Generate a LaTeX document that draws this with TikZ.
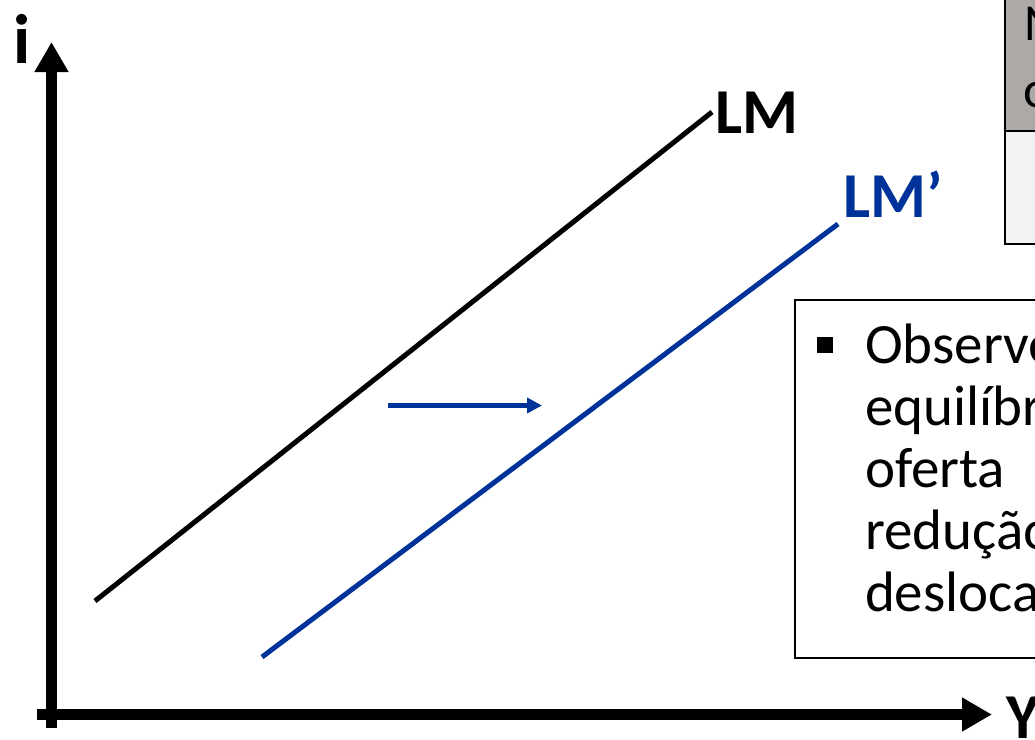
\documentclass[tikz,border=0pt]{standalone}
\usepackage{fontspec}
\setmainfont{Carlito}
\usetikzlibrary{arrows.meta}
\definecolor{lmblue}{RGB}{0,51,153}
\definecolor{headgray}{RGB}{172,169,167}
\definecolor{rowgray}{RGB}{242,242,242}
\begin{document}
\begin{tikzpicture}[x=1pt, y=-1pt, line join=miter,
	every node/.style={inner sep=0pt, outer sep=0pt, anchor=base west},
	axis/.style={line width=11pt, -{Triangle[length=30pt, width=32pt]}},
	curve/.style={line width=5pt},
	lbl/.style={font=\fontsize{64}{64}\selectfont\bfseries},
	boxtext/.style={font=\fontsize{57}{62}\selectfont}]
	\useasboundingbox (0,0) rectangle (1035,739);
	\clip (0,0) rectangle (1035,739);

	% Eixos
	\coordinate (ybot) at (51.5,728);
	\coordinate (ytop) at (51.5,42);
	\coordinate (xleft) at (37,714.5);
	\coordinate (xright) at (992,714.5);
	\draw[axis] (ybot) -- (ytop);
	\draw[axis] (xleft) -- (xright);
	\node[lbl, font=\fontsize{70}{70}\selectfont\bfseries] (i) at (13,63) {i};
	\node[lbl] (Y) at (1006,738) {Y};

	% Curvas LM e LM'
	\coordinate (lm-a) at (95,601);
	\coordinate (lm-b) at (712,112);
	\coordinate (lmp-a) at (262,657);
	\coordinate (lmp-b) at (838,224);
	\draw[curve] (lm-a) -- (lm-b);
	\draw[curve, lmblue] (lmp-a) -- (lmp-b);
	\node[lbl] (lm) at (715,133) {LM};
	\node[lbl, text=lmblue] (lmp) at (843,217) {LM’};

	% Deslocamento
	\coordinate (sh-a) at (388,405.5);
	\coordinate (sh-b) at (542,405.5);
	\draw[lmblue, line width=4.5pt, -{Triangle[length=15pt, width=15pt]}] (sh-a) -- (sh-b);

	% Tabela
	\draw[line width=2pt, fill=headgray] (1005,-5) rectangle (1045,131);
	\draw[line width=2pt, fill=rowgray] (1005,131) rectangle (1045,244);
	\node[font=\fontsize{52}{52}\selectfont] (tab1) at (1024,40) {N};
	\node[font=\fontsize{52}{52}\selectfont] (tab2) at (1023,107) {o};

	% Caixa de texto
	\draw[line width=1.5pt, fill=white] (795,300) rectangle (1045,658);
	\node[fill, minimum width=16pt, minimum height=16pt, anchor=center] (bul) at (825,344.5) {};
	\foreach \w [count=\k from 0] in {Observe, equilíbr, oferta, redução, desloca}
		\node[boxtext] (t\k) at (865, 363+62*\k) {\w};
\end{tikzpicture}
\end{document}
